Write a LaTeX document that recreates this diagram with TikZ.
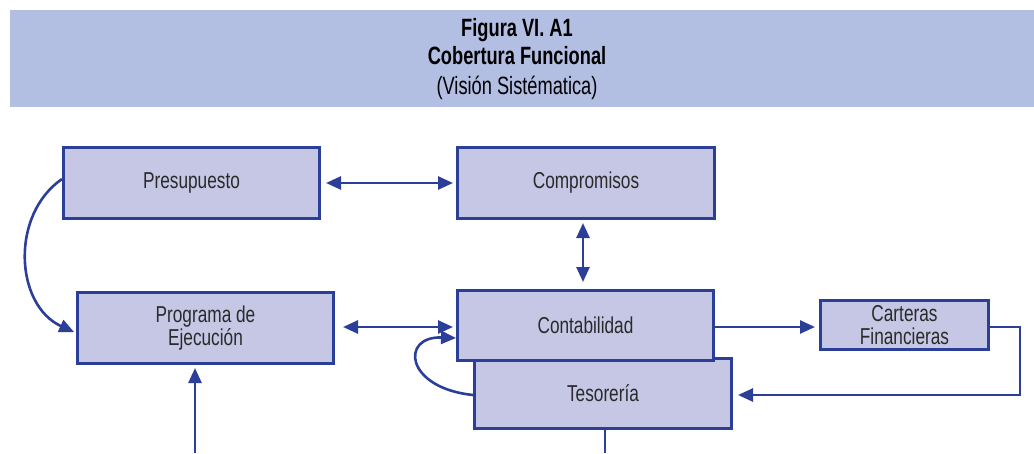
\documentclass[tikz,border=0pt]{standalone}
\usepackage{fontspec}
\setmainfont{Liberation Sans}[FakeStretch=0.75]
\newfontfamily\titlefont{Liberation Sans}[FakeStretch=0.73]
\usetikzlibrary{arrows.meta}
\definecolor{bandc}{HTML}{B3BEE3}
\definecolor{boxc}{HTML}{C6C7E5}
\definecolor{linec}{HTML}{2B3F99}
\definecolor{txtc}{HTML}{2A2A2A}
\tikzset{
  blockbox/.style={draw=linec, fill=boxc, line width=3pt, inner sep=0pt, text=txtc,
    font=\fontsize{23}{23}\selectfont, align=center},
  conn/.style={draw=linec, line width=2.6pt, -{Triangle[length=15pt,width=13pt]}},
  biconn/.style={draw=linec, line width=2.6pt, {Triangle[length=15pt,width=13pt]}-{Triangle[length=15pt,width=13pt]}},
  plainconn/.style={draw=linec, line width=2.6pt},
  titletxt/.style={text=black, inner sep=0pt, anchor=base, font=\titlefont\fontsize{25}{25}\selectfont}
}
\begin{document}
\begin{tikzpicture}[x=1pt,y=-1pt]
\useasboundingbox (0,0) rectangle (1034,453);
\fill[bandc] (10,10) rectangle (1034,107);
\node[titletxt, font=\titlefont\fontsize{25}{25}\selectfont\bfseries] (t1) at (517,36) {Figura VI. A1};
\node[titletxt, font=\titlefont\fontsize{25}{25}\selectfont\bfseries] (t2) at (517,64) {Cobertura Funcional};
\node[titletxt] (t3) at (517,94) {(Visión Sistématica)};

\node[blockbox, minimum width=256pt, minimum height=71pt] (pre) at (191.5,183) {Presupuesto};
\node[blockbox, minimum width=257pt, minimum height=71pt] (com) at (586,183) {Compromisos};
\node[blockbox, minimum width=256pt, minimum height=71pt] (prog) at (205.5,328) {Programa de\\Ejecución};
\node[blockbox, minimum width=257pt, minimum height=70pt] (tes) at (603,393.5) {Tesorería};
\node[blockbox, minimum width=256pt, minimum height=70pt] (cont) at (585.5,325.5) {Contabilidad};
\node[blockbox, minimum width=168pt, minimum height=49pt] (car) at (904.5,325) {Carteras\\Financieras};

\coordinate (progin) at (195,453);
\coordinate (tesout) at (605,453);
\coordinate (corner1) at (1020,327);
\coordinate (corner2) at (1020,395);

\draw[biconn, shorten <=5pt, shorten >=3pt] (pre.east) -- (com.west);
\draw[biconn, shorten <=8pt, shorten >=3pt] (prog.east |- 0,327) -- (cont.west |- 0,327);
\draw[biconn, shorten <=3pt, shorten >=7pt] (com.south -| 583,0) -- (cont.north -| 583,0);
\draw[conn, shorten >=4pt] (cont.east |- 0,327) -- (car.west |- 0,327);
\draw[conn, shorten >=5pt] (car.east |- 0,327) -- (corner1) -- (corner2) -- (tes.east |- 0,395);
\draw[conn] (tes.west |- 0,395) .. controls (405,388) and (400,336) .. (cont.west |- 0,338);
\draw[conn, shorten >=2pt] (pre.west |- 0,179) .. controls (10,215) and (15,305) .. (prog.west |- 0,333);
\draw[conn, shorten >=3pt] (progin) -- (prog.south -| progin);
\draw[plainconn] (tes.south -| tesout) -- (tesout);
\end{tikzpicture}
\end{document}
